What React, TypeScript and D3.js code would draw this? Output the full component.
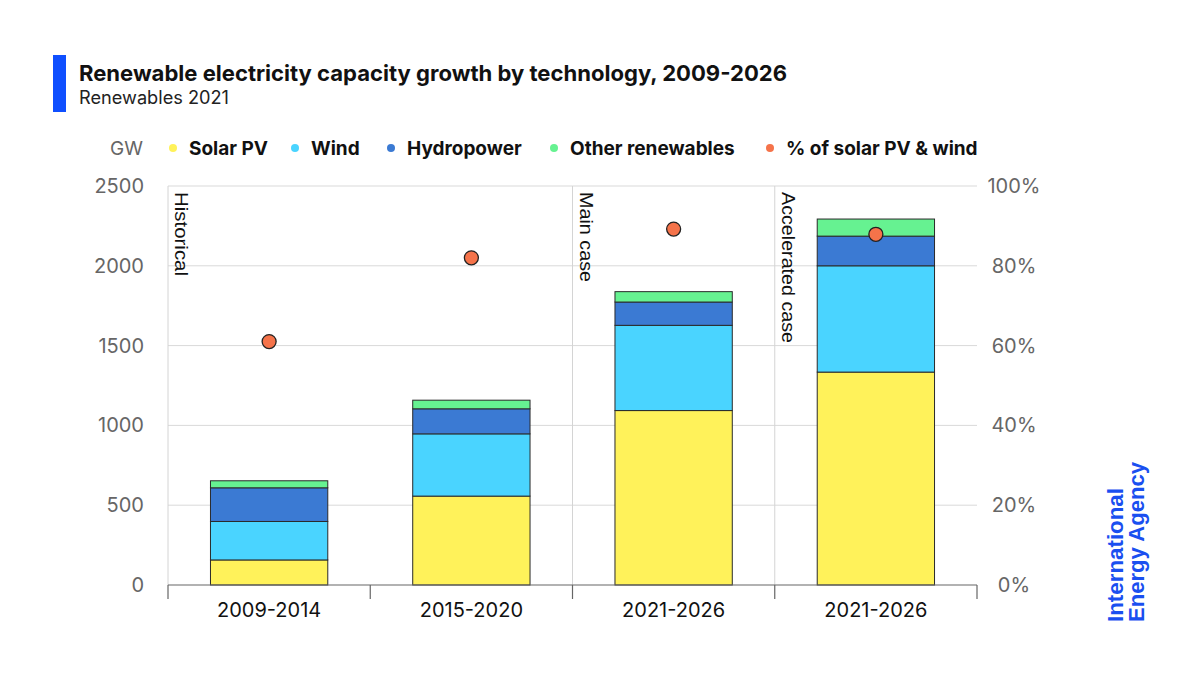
import * as d3 from 'd3';

// periods and capacity additions (GW)
const periods = ['2009-2014', '2015-2020', '2021-2026', '2021-2026 '];
const solarPV = [157, 557, 1093, 1334];
const wind = [241, 390, 534, 666];
const hydropower = [211, 157, 146, 186];
const otherRenewables = [44, 54, 65, 107];
// share of solar PV & wind in total additions (%)
const shareSolarWind = [61, 82, 89.2, 87.9];

const gwTicks = [0, 500, 1000, 1500, 2000, 2500];
const pctTicks = [0, 20, 40, 60, 80, 100];
const caseLabels = [
  { label: 'Historical', at: 0 },
  { label: 'Main case', at: 2 },
  { label: 'Accelerated case', at: 3 },
];
// rendered lengths of the rotated case labels (px)
const caseLabelLength: Record<string, number> = { Historical: 84, 'Main case': 90, 'Accelerated case': 151 };

const series = [
  { key: 'solar', name: 'Solar PV', values: solarPV, color: '#FFF25A' },
  { key: 'wind', name: 'Wind', values: wind, color: '#4AD4FF' },
  { key: 'hydro', name: 'Hydropower', values: hydropower, color: '#3B7AD3' },
  { key: 'other', name: 'Other renewables', values: otherRenewables, color: '#66F291' },
];
const dotColor = '#F5734A';

const FONT = 'Inter, "Noto Sans", sans-serif';

export default function App() {
  const width = 1200;
  const height = 675;
  const margin = { left: 168, right: 977, top: 186, bottom: 585 };

  const x = d3.scaleBand<string>()
    .domain(periods)
    .range([margin.left, margin.right])
    .paddingInner(0.42)
    .paddingOuter(0.21);
  const y = d3.scaleLinear().domain([0, 2500]).range([margin.bottom, margin.top]);
  const yPct = d3.scaleLinear().domain([0, 100]).range([margin.bottom, margin.top]);

  // stacked layout
  const rows = periods.map((p, i) => {
    const r: Record<string, number | string> = { period: p };
    series.forEach(s => { r[s.key] = s.values[i]; });
    return r;
  });
  const stack = d3.stack<Record<string, number | string>>()
    .keys(series.map(s => s.key))
    .value((d, k) => d[k] as number);
  const stacked = stack(rows);

  const step = x.step();
  const boundaries = periods.map(p => (x(p) ?? 0) + x.bandwidth() / 2 - step / 2).concat(margin.right);

  const legend = [
    { name: 'Solar PV', color: series[0].color, x: 173 },
    { name: 'Wind', color: series[1].color, x: 295 },
    { name: 'Hydropower', color: series[2].color, x: 391 },
    { name: 'Other renewables', color: series[3].color, x: 554 },
    { name: '% of solar PV & wind', color: dotColor, x: 770 },
  ];

  return (
    <svg width={width} height={height} style={{ display: 'block', margin: -8, fontFamily: FONT }}>
      <rect width={width} height={height} fill="#fff" />

      {/* header */}
      <rect x={53} y={55} width={13} height={57} fill="#0F4FFF" />
      <text x={79} y={81} fontSize={22} fontWeight={700} fill="#111" textLength={708} lengthAdjust="spacingAndGlyphs">
        Renewable electricity capacity growth by technology, 2009-2026
      </text>
      <text x={79} y={104} fontSize={18} fill="#222" textLength={150} lengthAdjust="spacingAndGlyphs">Renewables 2021</text>

      {/* legend */}
      <text x={110} y={155} fontSize={19} fill="#666">GW</text>
      {legend.map(l => (
        <g key={l.name}>
          <circle cx={l.x} cy={148} r={4} fill={l.color} />
          <text x={l.x + 16} y={155} fontSize={19} fontWeight={700} fill="#111">{l.name}</text>
        </g>
      ))}

      {/* gridlines */}
      {gwTicks.slice(1).map(t => (
        <line key={t} x1={margin.left} x2={margin.right} y1={y(t)} y2={y(t)} stroke="#d9d9d9" strokeWidth={1} />
      ))}
      {/* vertical separators */}
      {[boundaries[0], boundaries[2], boundaries[3]].map((bx, i) => (
        <line key={i} x1={bx} x2={bx} y1={margin.top} y2={margin.bottom} stroke="#d4d4d4" strokeWidth={1} />
      ))}

      {/* case labels */}
      {caseLabels.map(c => {
        const bx = boundaries[c.at] + 7;
        return (
          <text key={c.label} transform={`translate(${bx},192) rotate(90)`} fontSize={19} fill="#111"
            fontFamily='"Liberation Sans", Arial, sans-serif'
            textLength={caseLabelLength[c.label]} lengthAdjust="spacingAndGlyphs">
            {c.label}
          </text>
        );
      })}

      {/* left axis labels */}
      {gwTicks.map(t => (
        <text key={t} x={144} y={y(t) + 7} fontSize={20} fill="#666" textAnchor="end">{t}</text>
      ))}
      {/* right axis labels */}
      {pctTicks.map(t => (
        <text key={t} x={1014} y={yPct(t) + 7} fontSize={20} fill="#666" textAnchor="middle">{t}%</text>
      ))}

      {/* bars */}
      {stacked.map((layer, li) => (
        <g key={layer.key}>
          {layer.map((d, i) => (
            <rect
              key={i}
              x={x(periods[i])}
              y={y(d[1])}
              width={x.bandwidth()}
              height={y(d[0]) - y(d[1])}
              fill={series[li].color}
              stroke="#2a2a2a"
              strokeWidth={1}
            />
          ))}
        </g>
      ))}

      {/* x axis */}
      <line x1={margin.left} x2={margin.right} y1={margin.bottom} y2={margin.bottom} stroke="#666" strokeWidth={1.2} />
      {boundaries.map((bx, i) => (
        <line key={i} x1={bx} x2={bx} y1={margin.bottom} y2={margin.bottom + 14} stroke="#666" strokeWidth={1.2} />
      ))}
      {periods.map(p => (
        <text key={p} x={(x(p) ?? 0) + x.bandwidth() / 2} y={617} fontSize={20} fill="#111" textAnchor="middle">
          {p.trim()}
        </text>
      ))}

      {/* share dots */}
      {shareSolarWind.map((v, i) => (
        <circle
          key={i}
          cx={(x(periods[i]) ?? 0) + x.bandwidth() / 2}
          cy={yPct(v)}
          r={7}
          fill={dotColor}
          stroke="#222"
          strokeWidth={1.3}
        />
      ))}

      {/* IEA logo */}
      <text transform="translate(1123,622) rotate(-90)" fontSize={22} fontWeight={700} fill="#1A4FF0"
        fontFamily='"Liberation Sans", Arial, sans-serif' textLength={134} lengthAdjust="spacingAndGlyphs">
        International
      </text>
      <text transform="translate(1144,622) rotate(-90)" fontSize={22} fontWeight={700} fill="#1A4FF0"
        fontFamily='"Liberation Sans", Arial, sans-serif' textLength={160} lengthAdjust="spacingAndGlyphs">
        Energy Agency
      </text>
    </svg>
  );
}
